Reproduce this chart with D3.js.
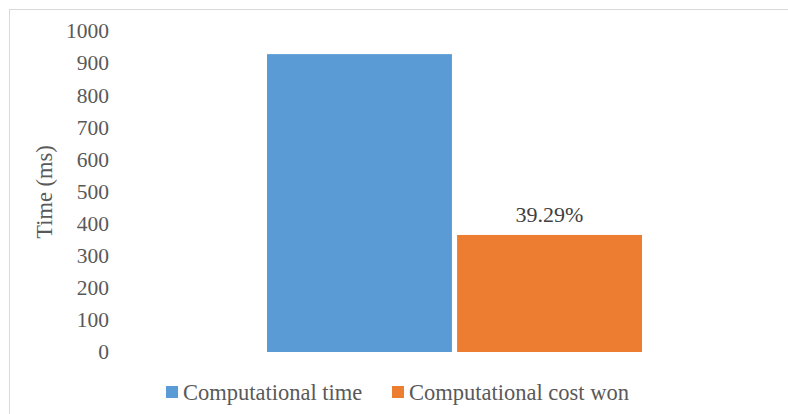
<!DOCTYPE html>
<html><head><meta charset="utf-8">
<script src="https://cdn.jsdelivr.net/npm/d3@7"></script>
<style>body{margin:0;background:#fff}</style>
</head><body>
<script>
const categories = ["Time"];
const seriesNames = ["Computational time", "Computational cost won"];
const seriesValues = [928, 364.6];
const seriesColors = ["#5B9BD5", "#ED7D31"];
const dataLabels = [null, "39.29%"];
const yTicks = [0,100,200,300,400,500,600,700,800,900,1000];
const yTitle = "Time (ms)";

const W = 788, H = 414;
const FF = '"Liberation Serif"';
const svg = d3.select("body").append("svg").attr("width", W).attr("height", H)
  .style("display","block").style("font-family",FF);
svg.append("rect").attr("x",9.5).attr("y",9.5).attr("width",W).attr("height",H)
  .attr("fill","#fff").attr("stroke","#d9d9d9");

const y = d3.scaleLinear().domain([0,1000]).range([352,31]);
const x0 = d3.scaleBand().domain(categories).range([267,642]);
const x1 = d3.scaleBand().domain(seriesNames).range([0, x0.bandwidth()]).paddingInner(0.027);

const yAxis = d3.axisLeft(y).tickValues(yTicks).tickFormat(d3.format("d")).tickSize(0).tickPadding(0);
const gy = svg.append("g").attr("transform","translate(109,0)").call(yAxis);
gy.attr("font-family",null).attr("font-size",null);
gy.select(".domain").remove();
gy.selectAll("text").style("font-family",FF).style("font-size","21.5px").attr("fill","#595959");

svg.append("text").attr("transform","translate(52,192) rotate(-90)")
  .attr("text-anchor","middle").style("font-family",FF).style("font-size","22.5px")
  .attr("fill","#595959").text(yTitle);

const g = svg.append("g");
seriesNames.forEach((s,i)=>{
  const bx = x0(categories[0]) + x1(s);
  g.append("rect").attr("x",bx).attr("y",y(seriesValues[i]))
   .attr("width",x1.bandwidth()).attr("height",y(0)-y(seriesValues[i]))
   .attr("fill",seriesColors[i]);
  if (dataLabels[i]) {
    g.append("text").attr("x",bx + x1.bandwidth()/2).attr("y",y(seriesValues[i])-13)
     .attr("text-anchor","middle").style("font-family",FF).style("font-size","22px")
     .attr("fill","#404040").text(dataLabels[i]);
  }
});

const legX = [166, 392];
seriesNames.forEach((s,i)=>{
  svg.append("rect").attr("x",legX[i]).attr("y",386).attr("width",12).attr("height",12)
    .attr("fill",seriesColors[i]);
  svg.append("text").attr("x",legX[i]+17).attr("y",400)
    .style("font-family",FF).style("font-size","22.5px").attr("fill","#595959").text(s);
});
</script>
</body></html>
